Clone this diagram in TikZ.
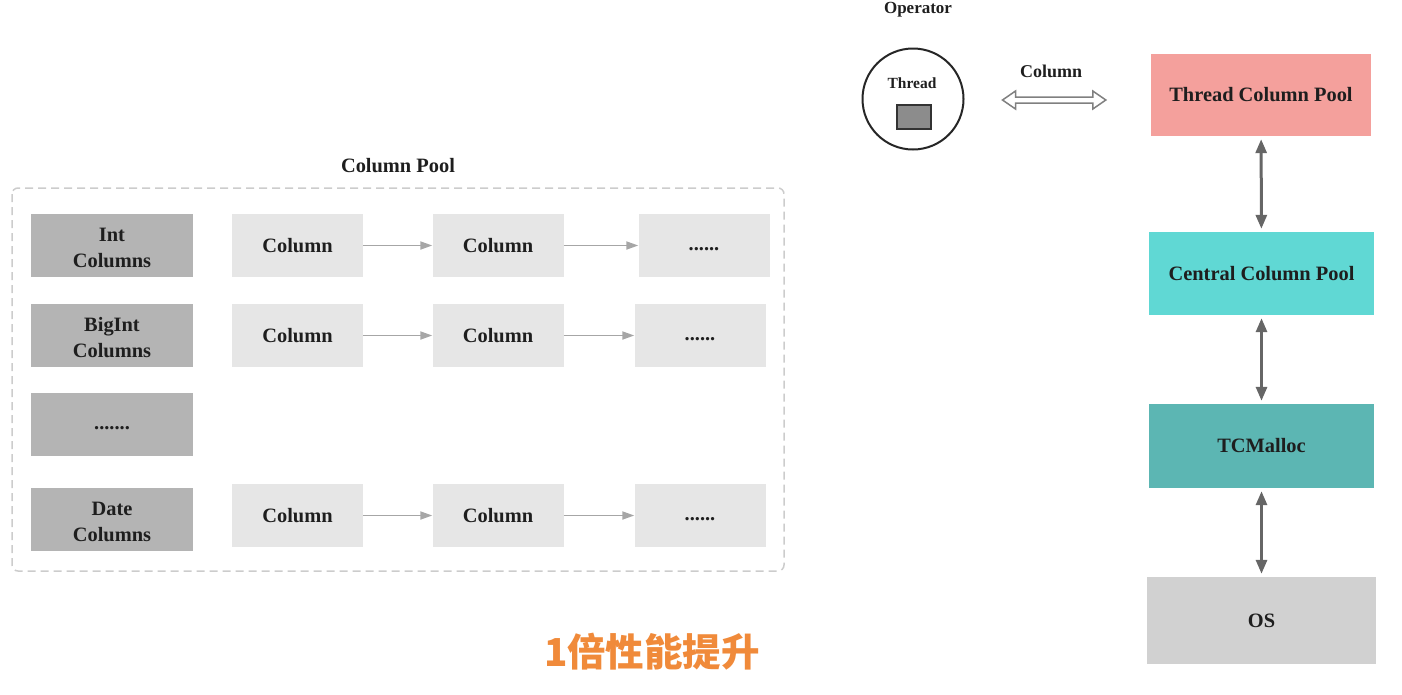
\documentclass[tikz,border=0pt]{standalone}
\usepackage{fontspec}
\setmainfont{Liberation Serif}
\newfontfamily\cjk{Noto Sans CJK SC}
\usetikzlibrary{arrows.meta,calc}
\definecolor{lgray}{HTML}{B4B4B4}
\definecolor{cgray}{HTML}{E6E6E6}
\definecolor{dgray}{HTML}{CCCCCC}
\definecolor{agray}{HTML}{A6A6A6}
\definecolor{tpool}{HTML}{F4A09C}
\definecolor{cpool}{HTML}{60D8D4}
\definecolor{tcm}{HTML}{5CB6B3}
\definecolor{osc}{HTML}{D1D1D1}
\definecolor{sarrow}{HTML}{666666}
\definecolor{orng}{HTML}{F08A3A}
\definecolor{txt}{HTML}{1E1E1E}
\newcommand{\dotsx}[1]{\vphantom{Cg}#1}
\begin{document}
\begin{tikzpicture}[x=1pt,y=-1pt,
  every node/.style={inner sep=0pt,text=txt},
  bigfont/.style={font=\bfseries\fontsize{20.4}{26}\selectfont,align=center},
  lbox/.style={bigfont,fill=lgray,minimum width=162pt,minimum height=63pt},
  cbox/.style={bigfont,fill=cgray,minimum width=131pt,minimum height=63pt},
  sbox/.style={bigfont,minimum height=83pt},
  larrow/.style={draw=agray,line width=1.8pt,-{Triangle[length=12pt,width=8pt]}},
  sarr/.style={draw=sarrow,line width=3pt,{Triangle[length=14pt,width=11pt]}-{Triangle[length=14pt,width=11pt]},shorten <=3pt,shorten >=3pt},
  hollow/.style={draw=black!50,line width=1.5pt,fill=white,line join=miter},
  poolframe/.style={draw=dgray,line width=1.5pt,dash pattern=on 8pt off 5pt,rounded corners=6pt}]
\useasboundingbox (0,0) rectangle (1402,694);
% Column pool
\node[bigfont] (pooltitle) at (398,166) {Column Pool};
\draw[poolframe] (12,188) rectangle (784,571);
\node[lbox] (int) at (112,245.5) {};
\node[bigfont] (intlbl) at ($(int.center)+(0,2.5)$) {Int\\Columns};
\node[lbox] (bigint) at (112,335.5) {};
\node[bigfont] (bigintlbl) at ($(bigint.center)+(0,2.5)$) {BigInt\\Columns};
\node[lbox] (dots) at (112,424.5) {\dotsx{.......}};
\node[lbox] (date) at (112,519.5) {};
\node[bigfont] (datelbl) at ($(date.center)+(0,2.5)$) {Date\\Columns};
\node[cbox] (c11) at (297.5,245.5) {Column};
\node[cbox] (c12) at (498,245.5) {Column};
\node[cbox] (c13) at (704,245.5) {\dotsx{......}};
\node[cbox] (c21) at (297.5,335.5) {Column};
\node[cbox] (c22) at (498,335.5) {Column};
\node[cbox] (c23) at (700,335.5) {\dotsx{......}};
\node[cbox] (c41) at (297.5,515.5) {Column};
\node[cbox] (c42) at (498,515.5) {Column};
\node[cbox] (c43) at (700,515.5) {\dotsx{......}};
\draw[larrow] (c11) -- (c12);
\draw[larrow] (c12) -- (c13);
\draw[larrow] (c21) -- (c22);
\draw[larrow] (c22) -- (c23);
\draw[larrow] (c41) -- (c42);
\draw[larrow] (c42) -- (c43);
% Operator
\node[font=\bfseries\fontsize{17}{20}\selectfont] (op) at (918,10) {Operator};
\node[draw=black!85,line width=2pt,circle,minimum size=101pt] (thread) at (913,99) {};
\node[font=\bfseries\fontsize{15.5}{18}\selectfont] (threadlbl) at (912,83) {Thread};
\node[draw=black!80,fill=black!45,line width=2pt,minimum width=34pt,minimum height=24pt] (tbox) at (913.5,117) {};
% stack
\node[sbox,fill=tpool,minimum width=220pt,minimum height=82pt] (tcp) at (1261,95) {Thread Column Pool};
\node[sbox,fill=cpool,minimum width=225pt] (ccp) at (1261.5,273.5) {Central Column Pool};
\node[sbox,fill=tcm,minimum width=225pt,minimum height=84pt] (tcmal) at (1261.5,446) {TCMalloc};
\node[sbox,fill=osc,minimum width=229pt,minimum height=87pt] (os) at (1261.5,620.5) {OS};
\draw[sarr] (tcp) -- (ccp);
\draw[sarr] (ccp) -- (tcmal);
\draw[sarr] (tcmal) -- (os);
% hollow double arrow between thread and thread column pool
\node[font=\bfseries\fontsize{18}{20}\selectfont] (collbl) at (1051,71) {Column};
\coordinate (ha) at ($(thread.east |- 0,100)+(38,0)$);
\coordinate (hb) at ($(tcp.west |- 0,100)+(-45,0)$);
\draw[hollow] (ha) -- ++(13,-9) -- ++(0,6) -- ($(hb)+(-13,-3)$) -- ++(0,-6) -- (hb)
  -- ++(-13,9) -- ++(0,-6) -- ($(ha)+(13,3)$) -- ++(0,6) -- cycle;
% bottom text
\node[font=\cjk\bfseries\fontsize{38.5}{40}\selectfont,text=orng] (perf) at (652,652) {1倍性能提升};
\end{tikzpicture}
\end{document}
